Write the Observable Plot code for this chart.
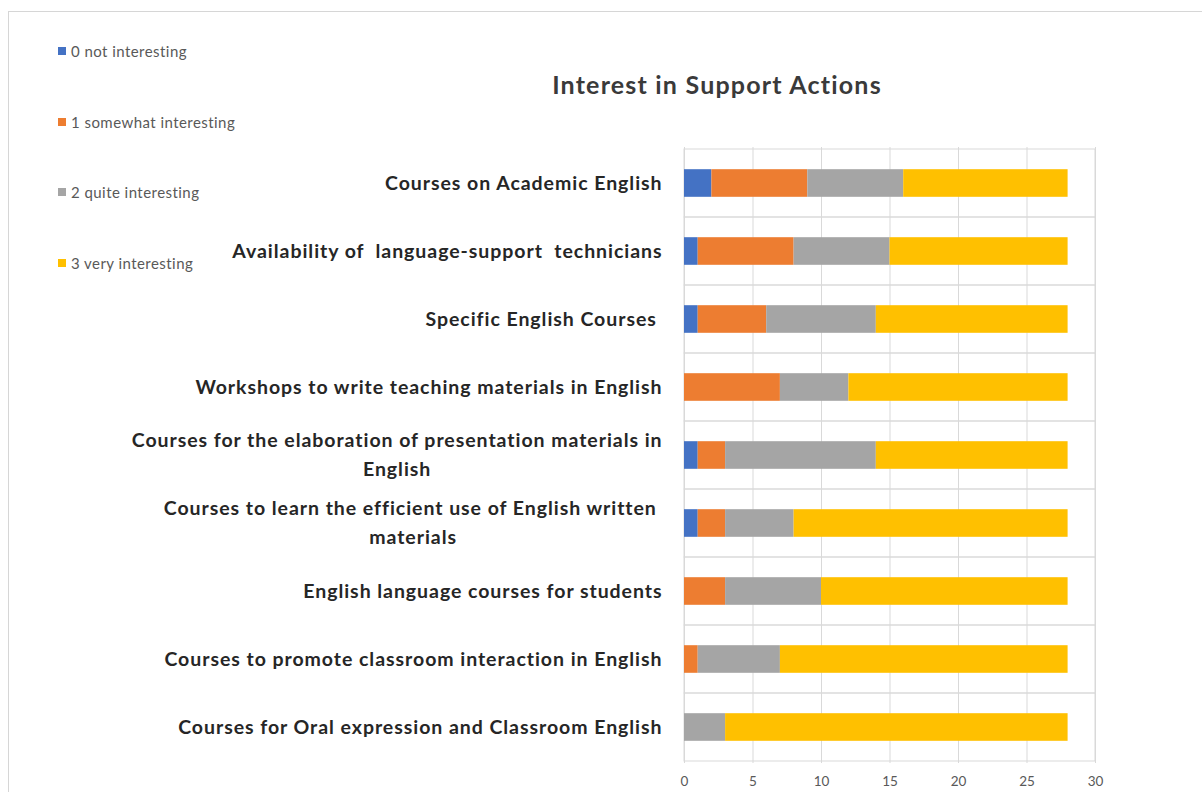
<!DOCTYPE html>
<html><head><meta charset="utf-8">
<script src="https://cdn.jsdelivr.net/npm/d3@7"></script>
<script src="https://cdn.jsdelivr.net/npm/@observablehq/plot@0.6"></script>
<style>
body{margin:0;background:#fff;font-family:Lato, "Noto Sans", sans-serif;}
#wrap{position:relative;width:1202px;height:792px;overflow:hidden;background:#fff;}
#border{position:absolute;left:8px;top:11px;right:-5px;bottom:-5px;border-top:1.5px solid #d6d6d6;border-left:1.5px solid #d6d6d6;}
#title{position:absolute;left:367px;width:700px;top:68px;text-align:center;font:bold 25px Lato, sans-serif;letter-spacing:1.2px;color:#3a3a3a;line-height:32px;}
#legend{position:absolute;left:58px;top:42px;}
.li{height:18px;margin-bottom:52.5px;display:flex;align-items:center;font-size:15px;letter-spacing:0.45px;color:#595959;}
.sw{width:8px;height:8px;margin-right:5px;}
#chart{position:absolute;left:0;top:0;}
svg text{white-space:pre;}
</style></head>
<body><div id="wrap"><div id="border"></div><div id="chart"></div><div id="title"></div><div id="legend"></div></div>
<script>
const chartTitle = "Interest in Support Actions";
const categories = [
  "Courses on Academic English",
  "Availability of  language-support  technicians",
  "Specific English Courses ",
  "Workshops to write teaching materials in English",
  "Courses for the elaboration of presentation materials in\nEnglish",
  "Courses to learn the efficient use of English written \nmaterials",
  "English language courses for students",
  "Courses to promote classroom interaction in English",
  "Courses for Oral expression and Classroom English"
];
const seriesNames = ["0 not interesting", "1 somewhat interesting", "2 quite interesting", "3 very interesting"];
const seriesColors = ["#4472C4", "#ED7D31", "#A5A5A5", "#FFC000"];
const notInteresting = [2, 1, 1, 0, 1, 1, 0, 0, 0];
const somewhatInteresting = [7, 7, 5, 7, 2, 2, 3, 1, 0];
const quiteInteresting = [7, 7, 8, 5, 11, 5, 7, 6, 3];
const veryInteresting = [12, 13, 14, 16, 14, 20, 18, 21, 25];
const xTicks = [0, 5, 10, 15, 20, 25, 30];

const series = [notInteresting, somewhatInteresting, quiteInteresting, veryInteresting];
const rows = [];
categories.forEach((c, i) => series.forEach((arr, j) => rows.push({category: c, series: seriesNames[j], value: arr[i]})));

const plot = Plot.plot({
  width: 1202, height: 792,
  marginLeft: 684, marginRight: 107, marginTop: 147, marginBottom: 29,
  style: {fontFamily: "Lato, sans-serif", background: "transparent"},
  x: {domain: [0, 30], ticks: xTicks, label: null},
  y: {domain: categories, padding: 0, label: null},
  color: {domain: seriesNames, range: seriesColors},
  marks: [
    Plot.gridX(xTicks, {stroke: "#d9d9d9", strokeOpacity: 1}),
    Plot.barX(categories, {x1: 0, x2: 30, y: d => d, fill: "none", stroke: "#d9d9d9"}),
    Plot.barX(rows, Plot.stackX({x: "value", y: "category", fill: "series", order: seriesNames, insetTop: 20.2, insetBottom: 20.2})),
    Plot.axisX({ticks: xTicks, tickSize: 0, tickPadding: 13, fontSize: 13.5, color: "#595959", label: null}),
    Plot.axisY({tickSize: 0, tickPadding: 22, dy: -3, fontSize: 19.5, fontWeight: "bold", lineHeight: 1.44, color: "#262626", label: null})
  ]
});
document.getElementById("chart").appendChild(plot);
document.getElementById("title").textContent = chartTitle;
const leg = document.getElementById("legend");
seriesNames.forEach((n, i) => {
  const d = document.createElement("div"); d.className = "li";
  const s = document.createElement("span"); s.className = "sw"; s.style.background = seriesColors[i];
  d.appendChild(s); d.appendChild(document.createTextNode(n)); leg.appendChild(d);
});
// widen label spacing and center wrapped lines under the first line
d3.select(plot).selectAll('g[aria-label="y-axis tick label"] text').each(function() {
  this.setAttribute("letter-spacing", "0.95");
  const ts = this.querySelectorAll("tspan");
  if (ts.length === 2) {
    const w1 = ts[0].getComputedTextLength(), w2 = ts[1].getComputedTextLength();
    ts[1].setAttribute("x", -(w1 - w2) / 2);
  }
});
</script></body></html>
